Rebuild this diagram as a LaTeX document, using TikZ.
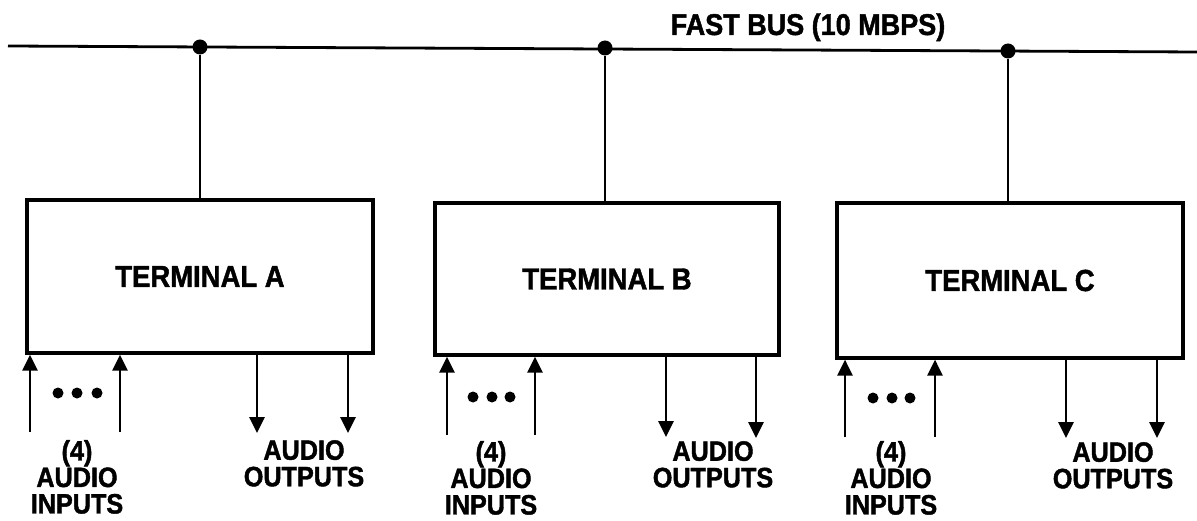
\documentclass[tikz,border=0pt]{standalone}
\usepackage{fontspec}
\setmainfont{Liberation Sans}[BoldFeatures={FakeBold=1.5,FakeStretch=0.9}]
\usetikzlibrary{arrows.meta}
\begin{document}
\begin{tikzpicture}[x=1pt,y=-1pt,
  lbl/.style={font=\bfseries\fontsize{28}{26.5}\selectfont, inner sep=0pt, align=center},
  term/.style={draw, line width=3.2pt, inner sep=0pt, font=\bfseries\fontsize{30.5}{30}\selectfont},
  wire/.style={line width=2.8pt},
  inarrow/.style={line width=2.8pt, -{Triangle[length=16pt,width=15pt]}},
  busdot/.style={circle, fill, inner sep=0pt, minimum size=15pt},
  elldot/.style={circle, fill, inner sep=0pt, minimum size=11pt}
]
\useasboundingbox (0,0) rectangle (1197,521);

% bus
\coordinate (busL) at (8,46);
\coordinate (busR) at (1197,52);
\draw[wire] (busL) -- (busR);
\node[lbl, font=\bfseries\fontsize{30}{30}\selectfont, anchor=base] (buslbl) at (808,35) {FAST BUS (10 MBPS)};
\node[busdot] (dA) at (200,47) {};
\node[busdot] (dB) at (605,48) {};
\node[busdot] (dC) at (1008,51) {};

% terminals
\node[term, minimum width=346pt, minimum height=153pt] (A) at (200,276.5) {TERMINAL A};
\node[term, minimum width=344pt, minimum height=152pt] (B) at (607,279) {TERMINAL B};
\node[term, minimum width=346pt, minimum height=155pt] (C) at (1010,280.5) {TERMINAL C};

\draw[wire] (dA) -- (dA |- A.north);
\draw[wire] (dB) -- (dB |- B.north);
\draw[wire] (dC) -- (dC |- C.north);

% terminal A I/O
\coordinate (Ai1) at (30,432);
\coordinate (Ai2) at (120,432);
\coordinate (Ao1) at (257,433);
\coordinate (Ao2) at (348,433);
\draw[inarrow] (Ai1) -- (Ai1 |- A.south);
\draw[inarrow] (Ai2) -- (Ai2 |- A.south);
\draw[inarrow] (Ao1 |- A.south) -- (Ao1);
\draw[inarrow] (Ao2 |- A.south) -- (Ao2);
\node[elldot] (Ae1) at (58,393) {};
\node[elldot] (Ae2) at (77,393) {};
\node[elldot] (Ae3) at (97,393) {};
\node[lbl, anchor=north] (Ain) at (77,440) {(4)\\AUDIO\\INPUTS};
\node[lbl, anchor=north] (Aout) at (304,440) {AUDIO\\OUTPUTS};

% terminal B I/O
\coordinate (Bi1) at (447,435);
\coordinate (Bi2) at (535,435);
\coordinate (Bo1) at (666,437);
\coordinate (Bo2) at (756,438);
\draw[inarrow] (Bi1) -- (Bi1 |- B.south);
\draw[inarrow] (Bi2) -- (Bi2 |- B.south);
\draw[inarrow] (Bo1 |- B.south) -- (Bo1);
\draw[inarrow] (Bo2 |- B.south) -- (Bo2);
\node[elldot] (Be1) at (473,397) {};
\node[elldot] (Be2) at (492,397) {};
\node[elldot] (Be3) at (510,397) {};
\node[lbl, anchor=north] (Bin) at (491,441) {(4)\\AUDIO\\INPUTS};
\node[lbl, anchor=north] (Bout) at (713,441) {AUDIO\\OUTPUTS};

% terminal C I/O
\coordinate (Ci1) at (845,437);
\coordinate (Ci2) at (935,437);
\coordinate (Co1) at (1066,438);
\coordinate (Co2) at (1157,438);
\draw[inarrow] (Ci1) -- (Ci1 |- C.south);
\draw[inarrow] (Ci2) -- (Ci2 |- C.south);
\draw[inarrow] (Co1 |- C.south) -- (Co1);
\draw[inarrow] (Co2 |- C.south) -- (Co2);
\node[elldot] (Ce1) at (873,398) {};
\node[elldot] (Ce2) at (892,398) {};
\node[elldot] (Ce3) at (910,398) {};
\node[lbl, anchor=north] (Cin) at (891,441) {(4)\\AUDIO\\INPUTS};
\node[lbl, anchor=north] (Cout) at (1113,442) {AUDIO\\OUTPUTS};
\end{tikzpicture}
\end{document}
